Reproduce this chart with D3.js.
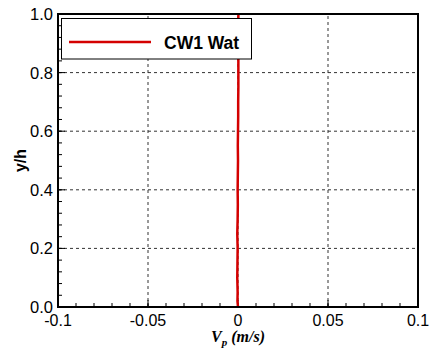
<!DOCTYPE html>
<html>
<head>
<meta charset="utf-8">
<script src="https://cdn.jsdelivr.net/npm/d3@7"></script>
<style>
  body { margin: 0; background: #fff; }
  svg { display: block; font-family: "Liberation Sans", Arial, sans-serif; }
  .grid line { stroke: #333; stroke-dasharray: 3,3; stroke-width: 1; }
</style>
</head>
<body>
<svg width="431" height="350"></svg>
<script>
// Profile data: y/h and particle velocity Vp (m/s)
const yh = [0, 0.02, 0.05, 0.1, 0.15, 0.2, 0.25, 0.3, 0.35, 0.4, 0.45, 0.5, 0.55, 0.6, 0.65, 0.7, 0.75, 0.8, 0.85, 0.9, 0.95, 1.0];
const vp = [0.0, -0.0003, -0.0002, -0.0004, -0.0003, -0.0002, -0.0004, -0.0002, -0.0001, -0.0002, -0.0001, 0.0, -0.0001, 0.0, 0.0001, 0.0001, 0.0002, 0.0002, 0.0002, 0.0002, 0.0002, 0.0002];
const seriesName = "CW1 Wat";
const xTicks = [-0.1, -0.05, 0, 0.05, 0.1];
const xTickLabels = ["-0.1", "-0.05", "0", "0.05", "0.1"];
const yTicks = [0, 0.2, 0.4, 0.6, 0.8, 1.0];
const yTickLabels = ["0.0", "0.2", "0.4", "0.6", "0.8", "1.0"];

const svg = d3.select("svg");
const margin = { left: 58, right: 13, top: 14, bottom: 43 };
const W = 431, H = 350;

const x = d3.scaleLinear().domain([-0.1, 0.1]).range([margin.left, W - margin.right]);
const y = d3.scaleLinear().domain([0, 1]).range([H - margin.bottom, margin.top]);

// Grid
const grid = svg.append("g").attr("class", "grid");
grid.selectAll(".gx").data(xTicks.slice(1, -1)).enter().append("line")
  .attr("x1", d => x(d)).attr("x2", d => x(d))
  .attr("y1", y(0)).attr("y2", y(1));
grid.selectAll(".gy").data(yTicks.slice(1, -1)).enter().append("line")
  .attr("y1", d => y(d)).attr("y2", d => y(d))
  .attr("x1", x(-0.1)).attr("x2", x(0.1));

// Ticks (inside)
const minorX = d3.range(-0.1, 0.1001, 0.01);
const minorY = d3.range(0, 1.0001, 0.04);
const ticks = svg.append("g").attr("stroke", "#000").attr("stroke-width", 1);
ticks.selectAll(".mx").data(minorX).enter().append("line")
  .attr("x1", d => x(d)).attr("x2", d => x(d))
  .attr("y1", y(0)).attr("y2", y(0) - 4);
ticks.selectAll(".Mx").data(xTicks).enter().append("line")
  .attr("x1", d => x(d)).attr("x2", d => x(d))
  .attr("y1", y(0)).attr("y2", y(0) - 7);
ticks.selectAll(".my").data(minorY).enter().append("line")
  .attr("y1", d => y(d)).attr("y2", d => y(d))
  .attr("x1", x(-0.1)).attr("x2", x(-0.1) + 4);
ticks.selectAll(".My").data(yTicks).enter().append("line")
  .attr("y1", d => y(d)).attr("y2", d => y(d))
  .attr("x1", x(-0.1)).attr("x2", x(-0.1) + 7);

// Data line
svg.append("path")
  .datum(yh.map((d, i) => [vp[i], d]))
  .attr("fill", "none")
  .attr("stroke", "#d40000")
  .attr("stroke-width", 2.5)
  .attr("d", d3.line().x(d => x(d[0])).y(d => y(d[1])));

// Frame
svg.append("rect")
  .attr("x", x(-0.1)).attr("y", y(1))
  .attr("width", x(0.1) - x(-0.1)).attr("height", y(0) - y(1))
  .attr("fill", "none").attr("stroke", "#000").attr("stroke-width", 2);

// Tick labels
svg.selectAll(".xl").data(xTicks).enter().append("text")
  .attr("x", d => x(d)).attr("y", y(0) + 19)
  .attr("text-anchor", "middle").attr("font-size", 16)
  .text((d, i) => xTickLabels[i]);
svg.selectAll(".yl").data(yTicks).enter().append("text")
  .attr("x", x(-0.1) - 5).attr("y", d => y(d) + 6)
  .attr("text-anchor", "end").attr("font-size", 16.5)
  .text((d, i) => yTickLabels[i]);

// Axis titles
const xt = svg.append("text")
  .attr("x", x(0)).attr("y", y(0) + 35)
  .attr("text-anchor", "middle")
  .attr("font-family", "'Liberation Serif', 'Times New Roman', serif")
  .attr("font-weight", "bold").attr("font-style", "italic").attr("font-size", 16);
xt.append("tspan").text("V");
xt.append("tspan").attr("font-size", 11).attr("dy", 4).text("p");
xt.append("tspan").attr("dy", -4).text(" (m/s)");

svg.append("text")
  .attr("transform", `translate(26,${(y(0) + y(1)) / 2}) rotate(-90)`)
  .attr("text-anchor", "middle")
  .attr("font-weight", "bold").attr("font-size", 16)
  .text("y/h");

// Legend
const lg = svg.append("g");
lg.append("rect")
  .attr("x", 61.5).attr("y", 18.5).attr("width", 190).attr("height", 40.5)
  .attr("fill", "#fff").attr("stroke", "#000").attr("stroke-width", 1);
lg.append("line")
  .attr("x1", 69).attr("x2", 151).attr("y1", 42).attr("y2", 42)
  .attr("stroke", "#d40000").attr("stroke-width", 2.5);
lg.append("text")
  .attr("x", 164).attr("y", 49)
  .attr("font-weight", "bold").attr("font-size", 17.5)
  .text(seriesName);
</script>
</body>
</html>
